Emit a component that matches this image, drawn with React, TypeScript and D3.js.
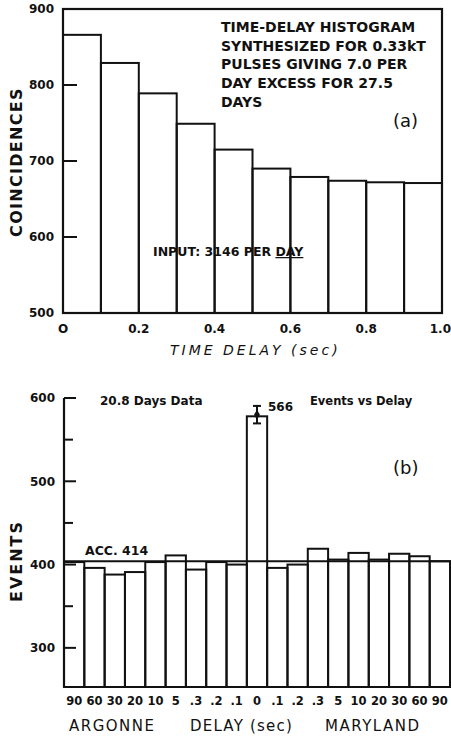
import React from "react";
import * as d3 from "d3";

// panel (a): synthesized time-delay histogram
const binStarts = [0, 0.1, 0.2, 0.3, 0.4, 0.5, 0.6, 0.7, 0.8, 0.9];
const binWidth = 0.1;
const coincidences = [866, 829, 789, 749, 715, 690, 679, 674, 672, 671];
const topYTicks = [500, 600, 700, 800, 900];
const topXTicks = [0, 0.2, 0.4, 0.6, 0.8, 1.0];
const topXTickLabels = ["O", "0.2", "0.4", "0.6", "0.8", "1.0"];
const noteLines = [
  "TIME-DELAY HISTOGRAM",
  "SYNTHESIZED FOR 0.33kT",
  "PULSES GIVING 7.0 PER",
  "DAY EXCESS FOR 27.5",
  "DAYS",
];

// panel (b): events vs delay
const delayLabels = ["90", "60", "30", "20", "10", "5", ".3", ".2", ".1", "0", ".1", ".2", ".3", "5", "10", "20", "30", "60", "90"];
const events = [403, 396, 388, 391, 403, 411, 394, 403, 400, 578, 396, 400, 419, 406, 414, 406, 413, 410, 404];
const peakValue = 580;
const peakErr = 10.5;
const accLevel = 404;
const botYTicks = [300, 400, 500, 600];
const botYMinor = [350, 450, 550];

const FONT = "DejaVu Sans";

export default function App() {
  const xTop = d3.scaleLinear().domain([0, 1]).range([63, 442]);
  const yTop = d3.scaleLinear().domain([500, 900]).range([313, 9]);

  const idx = delayLabels.map((_, i) => String(i));
  const xBot = d3.scaleBand().domain(idx).range([64, 450]).padding(0);
  const yBot = d3.scaleLinear().domain([253, 600]).range([687, 398]);

  const peakX = xBot("9")! + xBot.bandwidth() / 2;

  return (
    <div style={{ position: "absolute", left: 0, top: 0 }}>
      <svg width={451} height={736} style={{ display: "block", background: "#fff" }} fontFamily={FONT}>
        {/* ---------- (a) ---------- */}
        {binStarts.map((b, i) => (
          <rect
            key={"tb" + i}
            x={xTop(b)}
            y={yTop(coincidences[i])}
            width={xTop(b + binWidth) - xTop(b)}
            height={yTop(500) - yTop(coincidences[i])}
            fill="none"
            stroke="#111"
            strokeWidth={2}
          />
        ))}
        <rect
          x={xTop(0)}
          y={yTop(900)}
          width={xTop(1) - xTop(0)}
          height={yTop(500) - yTop(900)}
          fill="none"
          stroke="#111"
          strokeWidth={2.2}
        />
        {topYTicks.map((t) => (
          <g key={"ty" + t}>
            {t > 500 && t < 900 && (
              <line x1={xTop(0)} x2={xTop(0) + 14} y1={yTop(t)} y2={yTop(t)} stroke="#111" strokeWidth={2} />
            )}
            <text x={54} y={yTop(t)} dy="0.36em" textAnchor="end" fontSize={12} fontWeight="bold" fill="#111">
              {t}
            </text>
          </g>
        ))}
        {topXTicks.map((t, i) => {
          const last = i === topXTicks.length - 1;
          return (
            <text
              key={"tx" + t}
              x={last ? 451 : xTop(t)}
              y={333}
              textAnchor={last ? "end" : "middle"}
              fontSize={12}
              fontWeight="bold"
              fill="#111"
            >
              {topXTickLabels[i]}
            </text>
          );
        })}
        <text x={170} y={355} fontSize={14} fontStyle="italic" letterSpacing={3} fill="#111">
          TIME DELAY (sec)
        </text>
        <text
          transform="translate(22,162) rotate(-90)"
          textAnchor="middle"
          fontSize={16}
          fontWeight="bold"
          letterSpacing={1.3}
          fill="#111"
        >
          COINCIDENCES
        </text>
        {noteLines.map((s, i) => (
          <text key={"n" + i} x={221} y={32 + i * 18.7} fontSize={14} fontWeight="bold" fill="#111">
            {s}
          </text>
        ))}
        <text x={393} y={127} fontSize={18} fill="#111">
          (a)
        </text>
        <text x={153} y={256} fontSize={12.5} fontWeight="bold" fill="#111">
          INPUT: 3146 PER <tspan textDecoration="underline">DAY</tspan>
        </text>

        {/* ---------- (b) ---------- */}
        {events.map((v, i) => (
          <rect
            key={"bb" + i}
            x={xBot(String(i))!}
            y={yBot(v)}
            width={xBot.bandwidth()}
            height={yBot(253) - yBot(v)}
            fill="none"
            stroke="#111"
            strokeWidth={2}
          />
        ))}
        <line x1={64} x2={451} y1={yBot(accLevel)} y2={yBot(accLevel)} stroke="#111" strokeWidth={2} />
        {/* axes */}
        <line x1={64} x2={64} y1={yBot(600)} y2={yBot(253)} stroke="#111" strokeWidth={2.2} />
        <line x1={64} x2={451} y1={yBot(253)} y2={yBot(253)} stroke="#111" strokeWidth={2.2} />
        {botYTicks.map((t) => (
          <g key={"by" + t}>
            <line x1={64} x2={76} y1={yBot(t)} y2={yBot(t)} stroke="#111" strokeWidth={2} />
            <text x={55} y={yBot(t)} dy="0.36em" textAnchor="end" fontSize={12} fontWeight="bold" fill="#111">
              {t}
            </text>
          </g>
        ))}
        {botYMinor.map((t) => (
          <line key={"bm" + t} x1={64} x2={73} y1={yBot(t)} y2={yBot(t)} stroke="#111" strokeWidth={2} />
        ))}
        {delayLabels.map((l, i) => (
          <text
            key={"bx" + i}
            x={xBot(String(i))! + xBot.bandwidth() / 2}
            y={705}
            textAnchor="middle"
            fontSize={11.5}
            fontWeight="bold"
            fill="#111"
          >
            {l}
          </text>
        ))}
        {/* peak with error bar */}
        <line x1={peakX} x2={peakX} y1={yBot(peakValue + peakErr)} y2={yBot(peakValue - peakErr)} stroke="#111" strokeWidth={2} />
        <line x1={peakX - 4} x2={peakX + 4} y1={yBot(peakValue + peakErr)} y2={yBot(peakValue + peakErr)} stroke="#111" strokeWidth={2} />
        <line x1={peakX - 4} x2={peakX + 4} y1={yBot(peakValue - peakErr)} y2={yBot(peakValue - peakErr)} stroke="#111" strokeWidth={2} />
        <path
          d={d3.symbol(d3.symbolDiamond, 30)()!}
          transform={`translate(${peakX},${yBot(peakValue)})`}
          fill="#111"
        />
        <text x={268} y={411} fontSize={12} fontWeight="bold" fill="#111">
          566
        </text>
        <text x={85} y={555} fontSize={12.5} fontWeight="bold" fill="#111">
          ACC. 414
        </text>
        <text x={100} y={405} fontSize={12} fontWeight="bold" fill="#111">
          20.8 Days Data
        </text>
        <text x={310} y={405} fontSize={11.5} fontWeight="bold" fill="#111">
          Events vs Delay
        </text>
        <text x={393} y={474} fontSize={18} fill="#111">
          (b)
        </text>
        <text
          transform="translate(22,561) rotate(-90)"
          textAnchor="middle"
          fontSize={16}
          fontWeight="bold"
          letterSpacing={2}
          fill="#111"
        >
          EVENTS
        </text>
        <text x={69} y={731} fontSize={15} letterSpacing={1.5} fill="#111">
          ARGONNE
        </text>
        <text x={190} y={731} fontSize={15} letterSpacing={1.2} fill="#111">
          DELAY (sec)
        </text>
        <text x={325} y={731} fontSize={15} letterSpacing={1.5} fill="#111">
          MARYLAND
        </text>
      </svg>
    </div>
  );
}
